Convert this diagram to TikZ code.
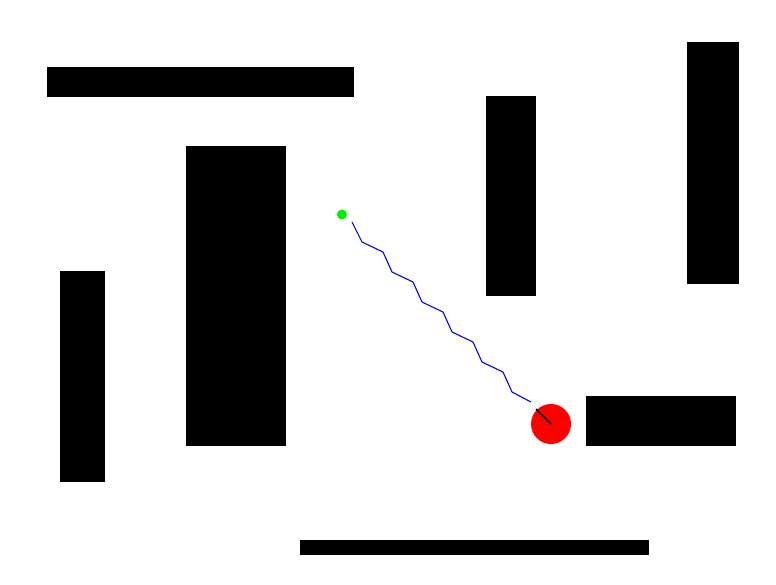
\documentclass[tikz,border=0pt]{standalone}
\usepackage{xcolor}
\usepackage{tikz}
\usetikzlibrary{positioning}
\definecolor{robot}{HTML}{FF0000}
\definecolor{goalgreen}{HTML}{00EE00}
\definecolor{trail}{HTML}{0000FF}
\tikzset{
    wall/.style={fill=black, draw=none},
    robotbody/.style={circle, fill=robot, draw=none, minimum size=40pt, inner sep=0pt},
    goalmark/.style={circle, fill=goalgreen, draw=none, minimum size=10pt, inner sep=0pt},
    trailline/.style={draw=trail, line width=1.1pt},
    heading/.style={draw=black, line width=1.6pt}
}

\begin{document}
\begin{tikzpicture}[x=1pt, y=-1pt]
    \useasboundingbox[fill=white] (0,0) rectangle (776,584);
    % walls
    \fill[wall] (47,67) rectangle (354,97);
    \fill[wall] (186,146) rectangle (286,446);
    \fill[wall] (60,271) rectangle (105,482);
    \fill[wall] (486,96) rectangle (536,296);
    \fill[wall] (687,42) rectangle (739,284);
    \fill[wall] (586,396) rectangle (736,446);
    \fill[wall] (300,540) rectangle (649,555);
    % goal and robot
    \node[goalmark] (goal) at (342,214.5) {};
    \node[robotbody] (robot) at (551,424) {};
    \coordinate (nose) at (536,409);
    % path travelled
    \draw[trailline] (352,222) -- (362,242) -- (383,252) -- (392,272) -- (413,282)
        -- (422,302) -- (443,312) -- (452,332) -- (473,342) -- (482,362)
        -- (503,372) -- (512,392) -- (531,402);
    \draw[heading] (nose) -- (robot.center);
\end{tikzpicture}
\end{document}
